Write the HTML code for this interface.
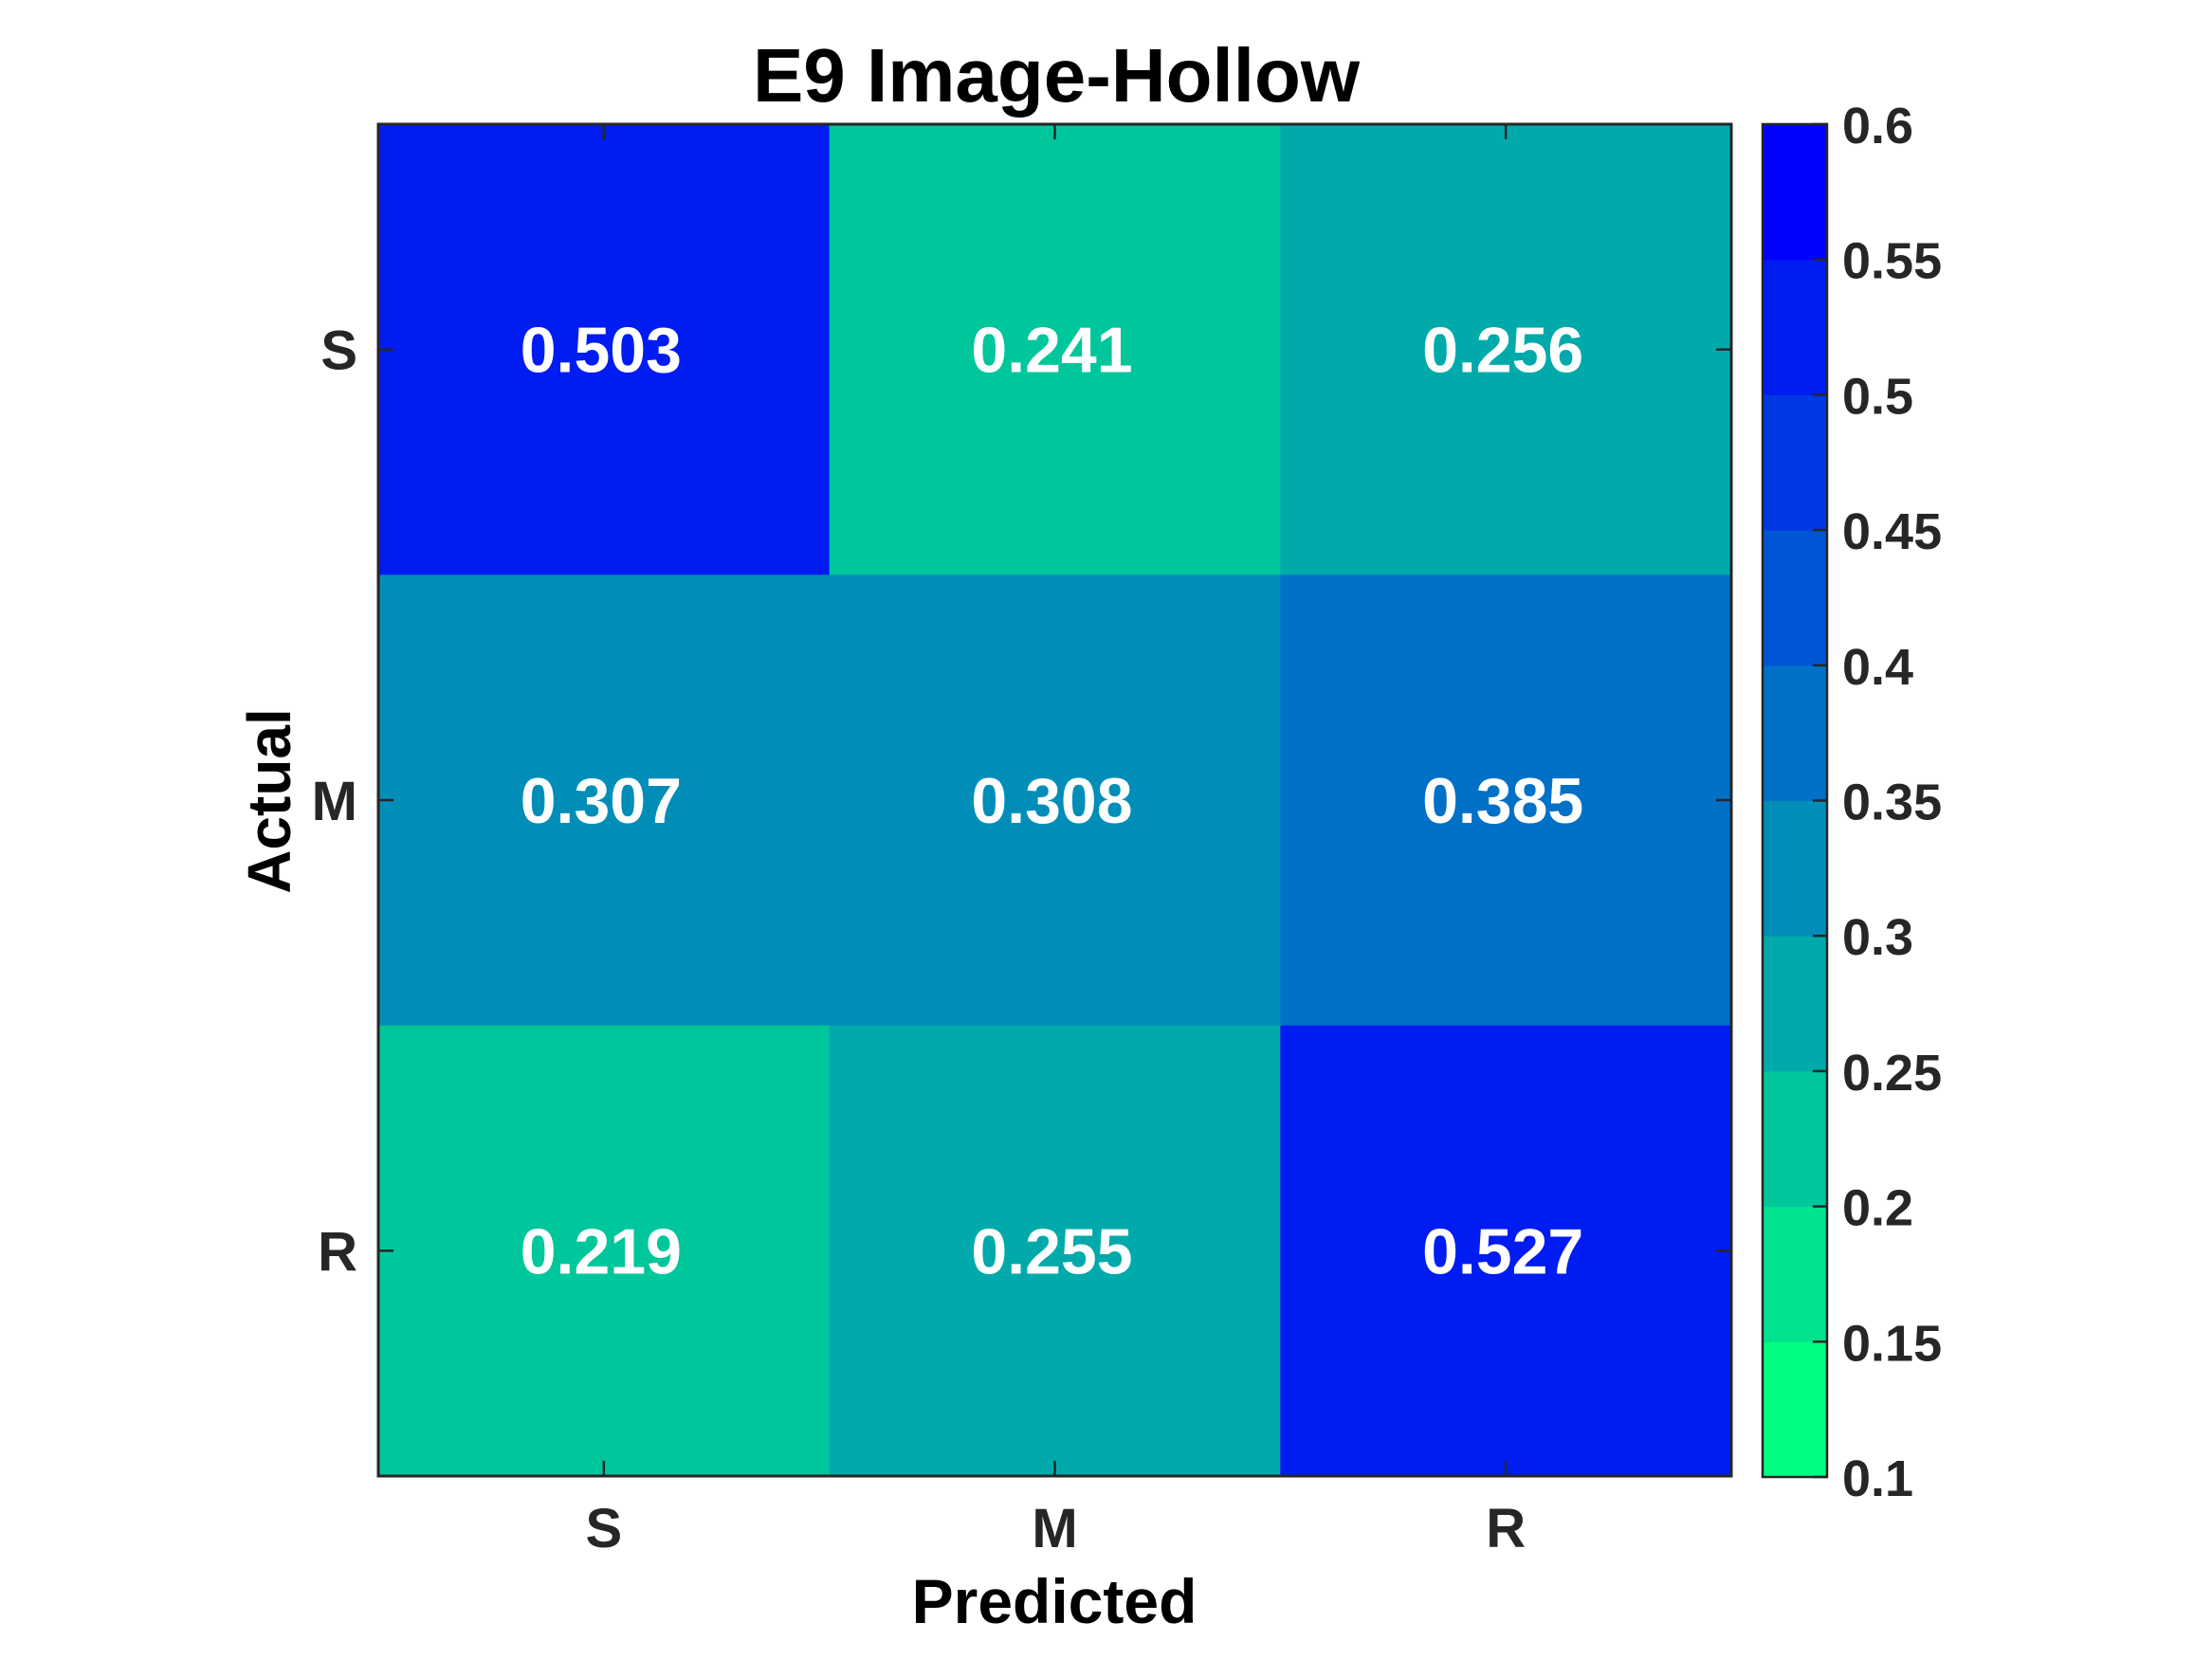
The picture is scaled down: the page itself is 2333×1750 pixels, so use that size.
<!DOCTYPE html>
<html><head><meta charset="utf-8"><style>
html,body{margin:0;padding:0;background:#fff;}
svg{display:block;}
text{font-family:"Liberation Sans",sans-serif;font-weight:bold;}
</style></head><body>
<svg id="chart" width="2333" height="1750" viewBox="0 0 2333 1750" xmlns="http://www.w3.org/2000/svg">
<text x="1114" y="107" font-size="80" text-anchor="middle" fill="#000">E9 Image-Hollow</text>
<g id="cells"></g>
<g id="axes"></g>
<text x="1112" y="1712" font-size="66" text-anchor="middle" fill="#000">Predicted</text>
<text transform="translate(306,845) rotate(-90)" font-size="64" text-anchor="middle" fill="#000">Actual</text>
<g id="cbar"></g>
</svg>
<script>
const xCategories = ["S","M","R"];
const yCategories = ["S","M","R"];
const row0 = [0.503, 0.241, 0.256];
const row1 = [0.307, 0.308, 0.385];
const row2 = [0.219, 0.255, 0.527];
const colorTicks = [0.1,0.15,0.2,0.25,0.3,0.35,0.4,0.45,0.5,0.55,0.6];
const colorTickLabels = ["0.1","0.15","0.2","0.25","0.3","0.35","0.4","0.45","0.5","0.55","0.6"];
const values = [row0,row1,row2];

const NS="http://www.w3.org/2000/svg";
const L=399,R=1826,T=131,B=1557;
const cmin=0.1,cmax=0.6,nb=10;
const cw=(R-L)/xCategories.length, ch=(B-T)/yCategories.length;
const xPos=i=>L+cw*i, yPos=j=>T+ch*j;
const CBL=1859,CBR=1927,CBT=131,CBB=1558;
const cY=v=>CBB-(v-cmin)/(cmax-cmin)*(CBB-CBT);
function bandColor(v){
  let i=Math.floor((v-cmin)/(cmax-cmin)*nb); i=Math.max(0,Math.min(nb-1,i));
  const t=i/(nb-1);
  return `rgb(0,${Math.round(255*(1-t))},${Math.round(255*(0.5+t/2))})`;
}
function mk(tag,attrs,parent){const e=document.createElementNS(NS,tag);for(const k in attrs)e.setAttribute(k,attrs[k]);parent.appendChild(e);return e;}
const cells=document.getElementById('cells');
values.forEach((row,j)=>row.forEach((v,i)=>{
  const r=mk('rect',{x:xPos(i),y:yPos(j),width:cw+0.5,height:ch+0.5,fill:bandColor(v)},cells);
  
  
  const t=mk('text',{x:xPos(i)+cw/2-3,y:yPos(j)+ch/2+24,'font-size':68,'text-anchor':'middle',fill:'#fff'},cells);
  t.textContent=v.toFixed(3);
  
  
}));
const axes=document.getElementById('axes');
const frame=mk('rect',{x:L,y:T,width:R-L,height:B-T,fill:'none',stroke:'#262626','stroke-width':3},axes);


xCategories.forEach((c,i)=>{
  const x=xPos(i)+cw/2;
  mk('line',{x1:x,y1:B,x2:x,y2:B-16,stroke:'#262626','stroke-width':2.5},axes);
  mk('line',{x1:x,y1:T,x2:x,y2:T+16,stroke:'#262626','stroke-width':2.5},axes);
  const t=mk('text',{x:x,y:1632,'font-size':58,'text-anchor':'middle',fill:'#262626'},axes);
  t.textContent=c;
  
  
});
yCategories.forEach((c,j)=>{
  const y=yPos(j)+ch/2;
  mk('line',{x1:L,y1:y,x2:L+16,y2:y,stroke:'#262626','stroke-width':2.5},axes);
  mk('line',{x1:R,y1:y,x2:R-16,y2:y,stroke:'#262626','stroke-width':2.5},axes);
  const t=mk('text',{x:377,y:y+21,'font-size':58,'text-anchor':'end',fill:'#262626'},axes);
  t.textContent=c;
  
  
});
const cb=document.getElementById('cbar');
for(let i=0;i<nb;i++){
  const v0=cmin+(cmax-cmin)*i/nb, v1=cmin+(cmax-cmin)*(i+1)/nb;
  const r=mk('rect',{x:CBL,y:cY(v1),width:CBR-CBL,height:cY(v0)-cY(v1)+0.5,fill:bandColor((v0+v1)/2)},cb);
  
  
}
const cbf=mk('rect',{x:CBL,y:CBT,width:CBR-CBL,height:CBB-CBT,fill:'none',stroke:'#262626','stroke-width':2.5},cb);


colorTicks.forEach((v,k)=>{
  const y=cY(v);
  mk('line',{x1:CBR,y1:y,x2:CBR-15,y2:y,stroke:'#262626','stroke-width':2.5},cb);
  const t=mk('text',{x:1943,y:y+20,'font-size':54,fill:'#262626'},cb);
  t.textContent=colorTickLabels[k];
  
  
});
</script>
</body></html>
